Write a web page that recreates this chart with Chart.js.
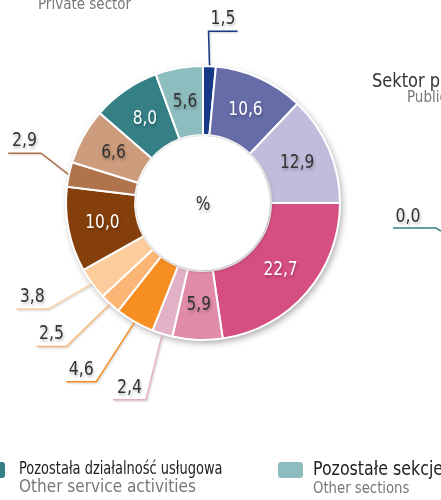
<!DOCTYPE html>
<html>
<head>
<meta charset="utf-8">
<script src="https://cdn.jsdelivr.net/npm/chart.js@4/dist/chart.umd.min.js"></script>
<style>
  html, body { margin: 0; padding: 0; background: #fff; overflow: hidden; }
  #wrap { width: 441px; height: 500px; position: relative; }
</style>
</head>
<body>
<div id="wrap"><canvas id="c" width="441" height="500"></canvas></div>
<script>
// Sektor prywatny – struktura według sekcji (%)
const categories = [
  'Sekcja 1', 'Sekcja 2', 'Sekcja 3', 'Sekcja 4', 'Sekcja 5', 'Sekcja 6', 'Sekcja 7',
  'Sekcja 8', 'Sekcja 9', 'Sekcja 10', 'Sekcja 11', 'Sekcja 12',
  'Pozostała działalność usługowa', 'Pozostałe sekcje'
];
const privateShares = [1.5, 10.6, 12.9, 22.7, 5.9, 2.4, 4.6, 2.5, 3.8, 10.0, 2.9, 6.6, 8.0, 5.6];
const publicEdgeValue = [0.0];

const palette = [
  '#173a87', '#666ca8', '#c0bddc', '#d64f82', '#e08ca8', '#e3b1c5', '#f68e22',
  '#fbb574', '#fdcc9c', '#853f0a', '#b0744d', '#cc9c7c', '#348085', '#8dbdbe'
];
const whiteText = new Set([1, 3, 9, 12]);   // slices with white labels

// leader lines for small slices: elbow offset from the slice rim, then horizontal run
const leaders = {
  0:  { dx: -1,  dy: -34, run: 29 },
  5:  { dx: -16, dy: 65,  run: -33 },
  6:  { dx: -38, dy: 59,  run: -30 },
  7:  { dx: -43, dy: 42,  run: -30 },
  8:  { dx: -43, dy: 25,  run: -32 },
  10: { dx: -27, dy: -21, run: -33 }
};

const FONT = '"DejaVu Sans Condensed", "Liberation Sans Narrow", sans-serif';
const fmt = v => v.toFixed(1).replace('.', ',');

// condensed text: font size plus a horizontal squeeze factor
function drawText(ctx, text, x, y, size, sx, align) {
  ctx.save();
  ctx.font = size + 'px ' + FONT;
  ctx.textAlign = align || 'left';
  ctx.textBaseline = 'middle';
  ctx.translate(x, y);
  ctx.scale(sx, 1);
  ctx.fillText(text, 0, 0);
  ctx.restore();
}

function textShadow(ctx) {
  ctx.shadowColor = 'rgba(0,0,0,0.28)';
  ctx.shadowBlur = 3;
  ctx.shadowOffsetX = 1;
  ctx.shadowOffsetY = 2;
}

const ringShadow = {
  id: 'ringShadow',
  beforeDatasetsDraw(chart) {
    const ctx = chart.ctx;
    const a = chart.getDatasetMeta(0).data[0];
    ctx.save();
    ctx.shadowColor = 'rgba(0,0,0,0.35)';
    ctx.shadowBlur = 7;
    ctx.shadowOffsetX = 2;
    ctx.shadowOffsetY = 3;
    ctx.beginPath();
    ctx.arc(a.x, a.y, a.outerRadius, 0, Math.PI * 2);
    ctx.arc(a.x, a.y, a.innerRadius, 0, Math.PI * 2, true);
    ctx.fillStyle = '#fff';
    ctx.fill();
    ctx.restore();
  }
};

const sliceLabels = {
  id: 'sliceLabels',
  afterDatasetsDraw(chart) {
    const ctx = chart.ctx;
    const meta = chart.getDatasetMeta(0);
    const first = meta.data[0];
    const cx = first.x, cy = first.y;

    // inner white disc with soft shadow
    ctx.save();
    ctx.shadowColor = 'rgba(0,0,0,0.3)';
    ctx.shadowBlur = 4;
    ctx.shadowOffsetX = 1;
    ctx.shadowOffsetY = 1;
    ctx.beginPath();
    ctx.arc(cx, cy, first.innerRadius - 1, 0, Math.PI * 2);
    ctx.fillStyle = '#fff';
    ctx.fill();
    ctx.restore();

    ctx.save();
    textShadow(ctx);
    ctx.fillStyle = '#333';
    drawText(ctx, '%', cx, cy + 2, 19, 0.9, 'center');

    meta.data.forEach((arc, i) => {
      const v = privateShares[i];
      const mid = (arc.startAngle + arc.endAngle) / 2;
      if (leaders[i]) {
        const L = leaders[i];
        const sx = cx + Math.cos(mid) * (arc.outerRadius + 1);
        const sy = cy + Math.sin(mid) * (arc.outerRadius + 1);
        const ex = sx + L.dx, ey = sy + L.dy;
        const hx = ex + L.run;
        ctx.save();
        ctx.shadowColor = 'rgba(0,0,0,0.2)';
        ctx.shadowBlur = 2;
        ctx.shadowOffsetX = 1;
        ctx.shadowOffsetY = 1;
        ctx.strokeStyle = palette[i];
        ctx.lineWidth = 1.5;
        ctx.beginPath();
        ctx.moveTo(sx, sy);
        ctx.lineTo(ex, ey);
        ctx.lineTo(hx, ey);
        ctx.stroke();
        ctx.restore();
        ctx.fillStyle = '#333';
        drawText(ctx, fmt(v), (ex + hx) / 2, ey - 12, 19, 0.92, 'center');
      } else {
        const r = (arc.innerRadius + arc.outerRadius) / 2;
        const x = cx + Math.cos(mid) * r;
        const y = cy + Math.sin(mid) * r;
        ctx.fillStyle = whiteText.has(i) ? '#ffffff' : '#333333';
        drawText(ctx, fmt(v), x, y, 19, 0.9, 'center');
      }
    });
    ctx.restore();
  }
};

const frameTexts = {
  id: 'frameTexts',
  afterDraw(chart) {
    const ctx = chart.ctx;
    ctx.save();

    // headings (private sector on the left, public sector beside it)
    ctx.fillStyle = '#777';
    drawText(ctx, 'Private sector', 38, 5, 15, 1, 'left');
    ctx.fillStyle = '#333';
    drawText(ctx, 'Sektor publiczny', 372, 82, 19, 0.95, 'left');
    ctx.fillStyle = '#777';
    drawText(ctx, 'Public sector', 407, 98, 15, 1, 'left');

    // first slice label of the neighbouring public-sector ring
    ctx.save();
    textShadow(ctx);
    ctx.fillStyle = '#333';
    drawText(ctx, fmt(publicEdgeValue[0]), 408, 217, 19, 0.92, 'center');
    ctx.restore();
    ctx.strokeStyle = '#348085';
    ctx.lineWidth = 1.5;
    ctx.beginPath();
    ctx.moveTo(393, 228);
    ctx.lineTo(436, 228);
    ctx.lineTo(441, 231);
    ctx.stroke();

    // legend
    const swatch = (x, y, w, h, c) => {
      ctx.fillStyle = c;
      ctx.beginPath();
      ctx.roundRect(x, y, w, h, 3);
      ctx.fill();
    };
    swatch(-20, 462, 25, 16, palette[12]);
    swatch(278, 462, 25, 16, palette[13]);
    ctx.fillStyle = '#222';
    drawText(ctx, 'Pozostała działalność usługowa', 19, 470, 17, 0.85, 'left');
    ctx.fillStyle = '#777';
    drawText(ctx, 'Other service activities', 19, 488, 17, 1, 'left');
    ctx.fillStyle = '#222';
    drawText(ctx, 'Pozostałe sekcje', 313, 470, 20, 0.88, 'left');
    ctx.fillStyle = '#777';
    drawText(ctx, 'Other sections', 313, 489, 16, 0.92, 'left');
    ctx.restore();
  }
};

new Chart(document.getElementById('c'), {
  type: 'doughnut',
  data: {
    labels: categories,
    datasets: [{
      data: privateShares,
      backgroundColor: palette,
      borderColor: '#ffffff',
      borderWidth: 2,
      hoverOffset: 0
    }]
  },
  options: {
    responsive: false,
    animation: false,
    cutout: 68,
    radius: 137,
    layout: { padding: { left: 65, right: 100, top: 65, bottom: 159 } },
    plugins: { legend: { display: false }, tooltip: { enabled: false } },
    events: []
  },
  plugins: [ringShadow, sliceLabels, frameTexts]
});
</script>
</body>
</html>
